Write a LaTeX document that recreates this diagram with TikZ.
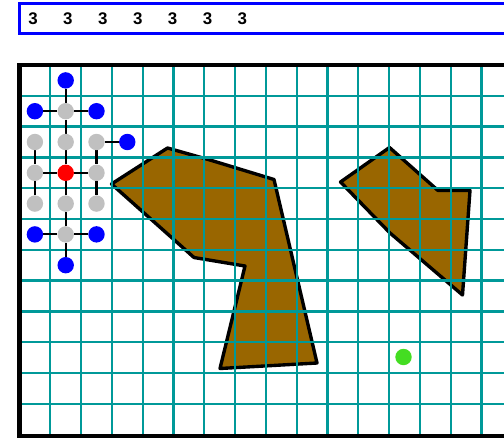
\documentclass[tikz,border=0pt]{standalone}
\usepackage{fontspec}
\setsansfont{Liberation Sans}
\usetikzlibrary{arrows.meta,positioning}
\definecolor{gridteal}{RGB}{0,153,153}
\definecolor{rock}{RGB}{153,102,0}
\definecolor{goalgreen}{RGB}{68,221,34}
\definecolor{dotgray}{RGB}{192,192,192}
\pgfdeclarelayer{polys}
\pgfdeclarelayer{gridlayer}
\pgfdeclarelayer{links}
\pgfsetlayers{polys,gridlayer,links,main}
\tikzset{
  gridline/.style={draw=gridteal,line width=3.3pt},
  frame/.style={draw=black,line width=5.8pt},
  topbox/.style={draw=blue,line width=3.4pt},
  digit/.style={font=\fontsize{24}{24}\selectfont\sffamily\bfseries,inner sep=0pt},
  obstacle/.style={draw=black,fill=rock,line width=4.8pt,line join=round},
  dot/.style={circle,inner sep=0pt,minimum size=0.82cm},
  dotblue/.style={dot,fill=blue},
  dotgrey/.style={dot,fill=dotgray},
  dotred/.style={dot,fill=red},
  link/.style={draw=black,line width=3pt}
}

\begin{document}
\begin{tikzpicture}[x=0.05cm,y=-0.05cm,>=Stealth]
  \useasboundingbox (0,0) rectangle (504,438);
  \clip (0,0) rectangle (504,438);

  % counter bar
  \draw[topbox] (19.5,3.5) rectangle (530,33.5);
  \foreach \i in {0,...,6}
    \node[digit] (d\i) at ({33+34.9*\i},18.5) {3};

  % obstacles
  \begin{pgfonlayer}{polys}
    \draw[obstacle] (111.5,184) -- (167.5,148) -- (210,160) -- (274,179.5)
      -- (317,363) -- (220,368.5) -- (245,266) -- (194,257.5) -- cycle;
    \draw[obstacle] (340.5,182) -- (389.5,147.5) -- (438,190.5) -- (470,190.5)
      -- (462.5,295) -- (390,233) -- cycle;
  \end{pgfonlayer}

  % grid and frame
  \begin{pgfonlayer}{gridlayer}
    \foreach \k in {1,...,15}
      \draw[gridline] ({19.5+30.8*\k},65) -- ({19.5+30.8*\k},436);
    \foreach \k in {1,...,11}
      \draw[gridline] (19.5,{65+30.8*\k}) -- (510,{65+30.8*\k});
    \draw[frame] (520,65) -- (19.5,65) -- (19.5,436) -- (520,436);
  \end{pgfonlayer}

  % goal
  \node[dot,fill=goalgreen] (goal) at (403.5,357) {};

  % search tree
  \begin{scope}[shift={(34.9,80.4)},x=1.54cm,y=-1.54cm]
    \node[dotblue] (n0) at (1,0) {};
    \node[dotblue] (w1) at (0,1) {};
    \node[dotgrey] (c1) at (1,1) {};
    \node[dotblue] (e1) at (2,1) {};
    \node[dotgrey] (w2) at (0,2) {};
    \node[dotgrey] (c2) at (1,2) {};
    \node[dotgrey] (e2) at (2,2) {};
    \node[dotblue] (f2) at (3,2) {};
    \node[dotgrey] (w3) at (0,3) {};
    \node[dotred] (start) at (1,3) {};
    \node[dotgrey] (e3) at (2,3) {};
    \node[dotgrey] (w4) at (0,4) {};
    \node[dotgrey] (c4) at (1,4) {};
    \node[dotgrey] (e4) at (2,4) {};
    \node[dotblue] (w5) at (0,5) {};
    \node[dotgrey] (c5) at (1,5) {};
    \node[dotblue] (e5) at (2,5) {};
    \node[dotblue] (s6) at (1,6) {};
  \end{scope}

  % links
  \begin{pgfonlayer}{links}
    \path[link] (n0) -- (c1) (c1) -- (c2) (c2) -- (start) (start) -- (c4)
      (c4) -- (c5) (c5) -- (s6);
    \path[link] (w1) -- (c1) (c1) -- (e1);
    \path[link] (e2) -- (f2);
    \path[link] (w2) -- (w3) (w3) -- (w4);
    \path[link] (e2) -- (e3) (e3) -- (e4);
    \path[link] (w3) -- (start) (start) -- (e3);
    \path[link] (w5) -- (c5) (c5) -- (e5);
  \end{pgfonlayer}
\end{tikzpicture}
\end{document}
